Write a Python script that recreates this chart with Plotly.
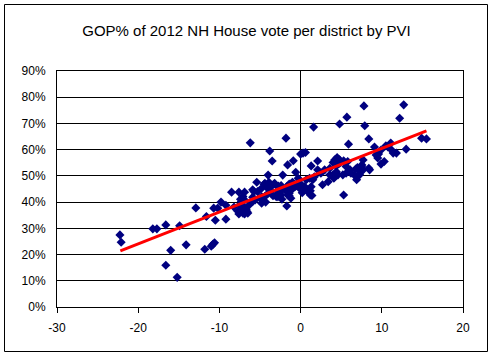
import plotly.graph_objects as go

# PVI of district (x) and GOP share of House vote in % (y)
pvi = [
    -22.25, -22.1, -18.2, -17.7, -16.6, -16.0, -16.6, -15.2, -14.9, -14.1, -12.9, -11.8, -11.6,
    -11.0, -10.8, -10.6, -10.7, -10.2, -10.5, -9.8, -9.2, -9.2,
    -8.5, -7.6, -6.9, -8.2, -7.6, -6.9, -6.6, -7.4, -7.1, -6.4, -6.2, -7.3, -6.9, -7.5, -7.1,
    -7.7, -7.3, -6.7, -6.5, -7.1,
    -5.9, -5.75, -5.4, -5.9, -5.6, -4.8, -4.9, -4.3, -4.5, -4.2, -3.9, -3.6, -3.3, -2.75, -2.4,
    -2.2, -4.0, -3.6, -3.4, -3.0, -2.8, -2.3, -1.7, -3.8, -3.5, -1.8,
    -5.9, -5.3, -4.8, -4.4, -3.8, -3.2, -4.0, -4.8, -4.4, -2.8,
    -1.6, -0.9, -0.6, -0.3, -1.7, -1.7, -1.4, -1.4, -1.1, -1.1, -0.7, -0.5, -0.2, 0.1, 0.0, 0.3,
    0.6, 0.2, 0.8, 1.2, 1.2, 1.4,
    -2.8, -3.0, -2.4, -2.6, -2.2, -1.6, -1.4, -1.0, -0.9, -0.5, -1.6, -1.2, -0.1, 0.5, 0.8, 1.3,
    0.7, 1.1, 1.5, 1.7, 1.3, 2.1, 2.1, 2.5, 2.7, 2.96, 3.4, 3.6, 4.0, 4.1, 4.4, 4.5, 4.8, 5.2,
    5.3, 5.6, 5.8, 5.6, 1.6, 4.8, 5.7, 5.9,
    3.6, 4.0, 4.2, 4.4, 4.8, 5.3, 4.2, 4.6,
    6.2, 6.8, 6.9, 7.2, 7.35, 7.5, 7.7, 7.55, 7.7, 8.4, 8.5, 7.8, 7.9, 8.4,
    6.1, 6.6, 7.0, 7.25,
    9.1, 9.3, 9.6, 9.9, 10.5, 11.1, 11.2, 11.4, 11.8, 10.75, 9.9, 10.3, 12.7, 12.2, 14.9, 15.5,
    13.0, 9.5,
]
gop_pct = [
    27.5, 24.7, 29.8, 29.8, 31.3, 21.6, 15.9, 11.3, 31.0, 23.7, 37.8, 22.0, 34.5,
    23.2, 23.9, 24.5, 37.7, 37.7, 33.1, 40.0, 33.5, 38.8,
    43.8, 43.8, 43.8, 38.1, 35.5, 35.5, 36.4, 41.1, 42.1, 38.7, 62.6, 40.2, 40.8, 38.9, 38.5,
    36.4, 37.0, 37.3, 35.8, 35.8,
    41.9, 44.0, 47.6, 40.2, 40.8, 39.6, 41.3, 40.0, 46.8, 45.7, 47.6, 46.3, 46.8, 46.1, 46.3,
    50.3, 50.3, 44.3, 42.4, 42.7, 44.3, 41.1, 38.5, 59.5, 55.7, 64.4,
    44.7, 44.0, 45.3, 47.2, 45.9, 47.2, 43.4, 42.1, 42.1, 42.1,
    54.2, 55.8, 51.4, 49.1, 45.9, 44.0, 43.4, 42.4, 47.2, 44.7, 45.9, 46.9, 45.5, 46.6, 58.3, 58.7,
    58.9, 43.6, 44.3, 44.3, 42.7, 42.5,
    45.9, 42.1, 42.7, 44.3, 44.9, 44.3, 46.9, 47.6, 45.7, 46.3, 42.7, 41.5, 46.9, 45.9, 44.7, 45.9,
    48.5, 49.1, 48.5, 49.7, 53.8, 55.7, 52.3, 51.0, 46.6, 52.3, 47.8, 50.4, 50.4, 49.1, 51.6, 57.0,
    56.1, 50.4, 42.7, 51.0, 55.5, 53.6, 68.6, 69.8, 72.4, 62.1,
    52.9, 55.1, 56.1, 53.8, 54.8, 55.8, 49.7, 50.4,
    51.0, 52.6, 48.5, 50.4, 51.6, 53.6, 56.1, 54.2, 52.3, 52.9, 52.3, 76.7, 69.1, 64.1,
    52.3, 50.4, 53.2, 50.4,
    61.0, 58.0, 58.3, 59.9, 61.5, 62.5, 59.9, 58.7, 58.7, 61.0, 54.5, 55.5, 77.1, 72.0, 64.4, 64.1,
    60.2, 56.8,
]

# linear trendline end points
trend_x = [-22.2, 15.5]
trend_y = [21.4, 67.2]

x_ticks = [-30, -20, -10, 0, 10, 20]
y_ticks = [0, 10, 20, 30, 40, 50, 60, 70, 80, 90]

fig = go.Figure()
fig.add_trace(go.Scatter(
    x=pvi, y=gop_pct, mode="markers",
    marker=dict(symbol="diamond", size=7, color="#000080", line=dict(width=0)),
    hoverinfo="skip", showlegend=False,
))
fig.add_trace(go.Scatter(
    x=trend_x, y=trend_y, mode="lines",
    line=dict(color="#ff0000", width=3),
    showlegend=False,
))

fig.update_layout(
    width=493, height=358,
    margin=dict(l=57, r=30, t=71, b=51),
    paper_bgcolor="white", plot_bgcolor="white",
    font=dict(family="Liberation Sans, Arial, sans-serif", size=12, color="black"),
    title=dict(text="GOP% of 2012 NH House vote per district by PVI",
               x=0.5, xanchor="center", y=1 - 31 / 358, yanchor="middle",
               font=dict(size=15, color="black")),
    shapes=[dict(type="rect", xref="paper", yref="paper",
                 x0=(4.5 - 57) / 406, x1=(487.5 - 57) / 406,
                 y0=(307 - 351.5) / 236, y1=(307 - 4.5) / 236,
                 line=dict(color="black", width=1), layer="below")],
)
fig.update_xaxes(
    range=[-30, 20], tickvals=x_ticks, ticktext=[str(v) for v in x_ticks],
    showgrid=False, zeroline=True, zerolinecolor="black", zerolinewidth=1,
    showline=True, linecolor="black", linewidth=1, mirror=True,
    ticks="outside", ticklen=5, tickcolor="black", ticklabelstandoff=5,
)
fig.update_yaxes(
    range=[0, 90], tickvals=y_ticks, ticktext=[f"{v}%" for v in y_ticks],
    showgrid=True, gridcolor="black", gridwidth=1, zeroline=False,
    showline=True, linecolor="black", linewidth=1, mirror=True,
    ticks="", ticklabelstandoff=8,
)

fig.write_html(
    "out.html",
    config={"displayModeBar": False},
    post_script="document.body.style.margin='0';document.body.style.overflow='hidden';",
)
